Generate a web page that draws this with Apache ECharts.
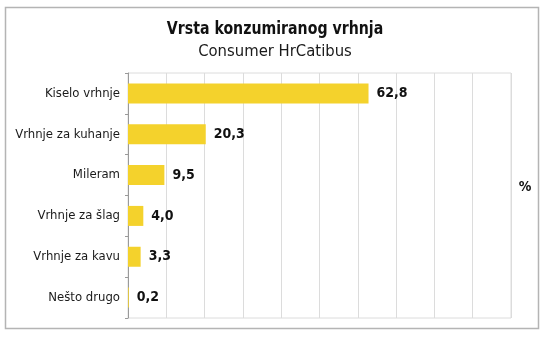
<!DOCTYPE html>
<html>
<head>
<meta charset="utf-8">
<script src="https://cdn.jsdelivr.net/npm/echarts@6/dist/echarts.min.js"></script>
<style>
  html, body { margin: 0; padding: 0; background: #fff; }
  #chart { width: 546px; height: 338px; }
</style>
</head>
<body>
<div id="chart"></div>
<script>
// Vrsta konzumiranog vrhnja – share of respondents (%)
const categories = ['Kiselo vrhnje', 'Vrhnje za kuhanje', 'Mileram', 'Vrhnje za šlag', 'Vrhnje za kavu', 'Nešto drugo'];
const values = [62.8, 20.3, 9.5, 4.0, 3.3, 0.2];
const titleText = 'Vrsta konzumiranog vrhnja';
const subtitleText = 'Consumer HrCatibus';
const unitText = '%';

const FONT = '"DejaVu Sans Condensed", "Open Sans", sans-serif';

const chart = echarts.init(document.getElementById('chart'), null, { renderer: 'canvas' });

chart.setOption({
  backgroundColor: '#ffffff',
  animation: false,
  grid: {
    left: 128, right: 35, top: 73, bottom: 20,
    show: true, borderColor: '#dcdcdc', borderWidth: 1
  },
  xAxis: {
    type: 'value',
    min: 0, max: 100, interval: 10,
    axisLabel: { show: false },
    axisTick: { show: false },
    axisLine: { show: false },
    splitLine: { show: true, lineStyle: { color: '#dcdcdc', width: 1 } }
  },
  yAxis: {
    type: 'category',
    data: categories,
    inverse: true,
    axisLine: { show: true, lineStyle: { color: '#9a9a9a', width: 1 } },
    axisTick: { show: true, length: 3, lineStyle: { color: '#9a9a9a' } },
    axisLabel: { margin: 8, fontFamily: FONT, fontSize: 13, color: '#1a1a1a' },
    splitLine: { show: false }
  },
  series: [{
    type: 'bar',
    data: values,
    barWidth: 20,
    itemStyle: { color: '#f4d22c' },
    label: {
      show: true,
      position: 'right',
      distance: 8,
      fontFamily: FONT,
      fontSize: 14,
      fontWeight: 'bold',
      color: '#111',
      formatter: p => p.value.toFixed(1).replace('.', ',')
    }
  }],
  graphic: [
    {
      type: 'rect',
      shape: { x: 5.5, y: 7.5, width: 533, height: 321 },
      style: { fill: 'none', stroke: '#b4b4b4', lineWidth: 1.5 },
      silent: true
    },
    {
      // chart title, slightly condensed
      type: 'text',
      x: 275, y: 29.5,
      scaleX: 0.85,
      style: {
        text: titleText, align: 'center', verticalAlign: 'middle',
        fontFamily: FONT, fontSize: 18.5, fontWeight: 'bold', fill: '#111'
      }
    },
    {
      type: 'text',
      x: 275, y: 52,
      style: {
        text: subtitleText, align: 'center', verticalAlign: 'middle',
        fontFamily: FONT, fontSize: 16.5, fill: '#1a1a1a'
      }
    },
    {
      type: 'text',
      x: 525, y: 187,
      style: {
        text: unitText, align: 'center', verticalAlign: 'middle',
        fontFamily: FONT, fontSize: 14, fontWeight: 'bold', fill: '#111'
      }
    }
  ]
});
</script>
</body>
</html>
